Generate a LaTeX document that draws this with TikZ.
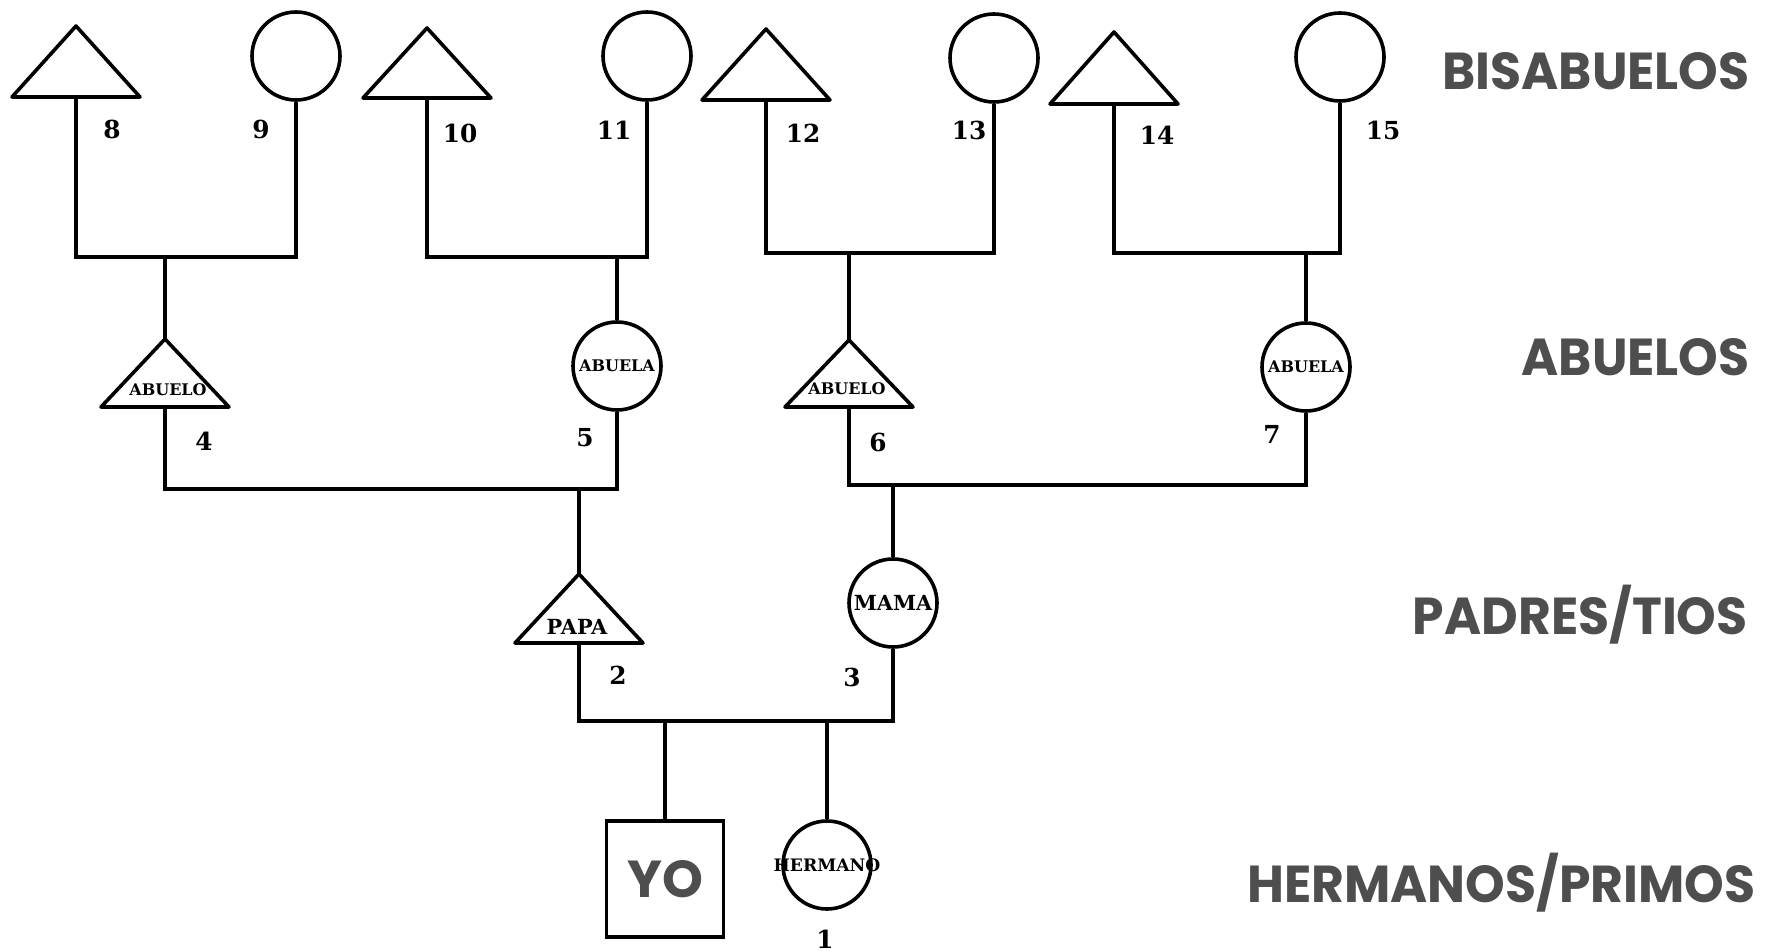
\documentclass[tikz,border=0pt]{standalone}
\usepackage{fontspec}
\setmainfont{DejaVu Serif}
\newfontfamily\hdrfam{Poppins}[FakeStretch=0.97]
\newfontfamily\yofam{Poppins}
\definecolor{hdrgray}{RGB}{78,78,78}
\newcommand\numfnt{\bfseries\fontsize{12.4}{13}\selectfont}
\newcommand\inlabfnt{\bfseries\fontsize{8.0}{9}\selectfont}
\newcommand\hermfnt{\bfseries\fontsize{8.6}{9}\selectfont}
\newcommand\bigfnt{\bfseries\fontsize{10.4}{11}\selectfont}
\newcommand\hdrfnt{\hdrfam\bfseries\fontsize{26}{28}\selectfont}
% triangle: name, cx, apex y, base y
\newcommand\malesym[4]{%
  \coordinate (#1-top) at (#2,#3);
  \coordinate (#1-bot) at (#2,#4);
  \draw[shapeline] (#2-64,#4) -- (#1-top) -- (#2+64,#4) -- cycle;
}
\begin{document}
\begin{tikzpicture}[x=0.5pt,y=-0.5pt,
  shapeline/.style={line width=1.8pt, line join=round},
  ln/.style={line width=1.7pt, line join=miter},
  fem/.style={circle, draw, line width=1.8pt, minimum size=44pt, inner sep=0pt},
  me/.style={rectangle, draw, line width=1.8pt, minimum width=58.5pt, minimum height=58pt, inner sep=0pt,
    font=\yofam\bfseries\fontsize{26}{27}\selectfont, text=hdrgray},
  num/.style={font=\numfnt, inner sep=0pt},
  inlab/.style={font=\inlabfnt, inner sep=0pt},
  hermlab/.style={font=\hermfnt, inner sep=0pt},
  biglab/.style={font=\bigfnt, inner sep=0pt},
  hdr/.style={font=\hdrfnt, text=hdrgray, inner sep=0pt, anchor=east}
]
\useasboundingbox (0,0) rectangle (1780,951);

% ---------- great-grandparents ----------
\malesym{t8}{76}{26}{97}
\node[fem] (c9) at (296,56) {};
\malesym{t10}{427}{28}{98}
\node[fem] (c11) at (647,56) {};
\malesym{t12}{766}{29}{100}
\node[fem] (c13) at (994,58) {};
\malesym{t14}{1114}{32}{104}
\node[fem] (c15) at (1340,57) {};

\node[num] (n8) at (112,129) {8};
\node[num] (n9) at (261,129) {9};
\node[num] (n10) at (460,133) {10};
\node[num] (n11) at (614,130) {11};
\node[num] (n12) at (803,133) {12};
\node[num] (n13) at (969,130) {13};
\node[num] (n14) at (1157,135) {14};
\node[num] (n15) at (1383,130) {15};

% ---------- grandparents ----------
\malesym{t4}{165}{339}{407}
\node[inlab] (l4) at (168,390) {ABUELO};
\node[fem, label={[inlab]center:ABUELA}] (c5) at (617,366) {};
\malesym{t6}{849}{340}{407}
\node[inlab] (l6) at (847,389) {ABUELO};
\node[fem, label={[inlab]center:ABUELA}] (c7) at (1306,367) {};

\node[num] (n4) at (204,441) {4};
\node[num] (n5) at (585,438) {5};
\node[num] (n6) at (878,442) {6};
\node[num] (n7) at (1272,434) {7};

% ---------- parents ----------
\malesym{tp}{579}{574}{643}
\node[biglab] (lp) at (577,627) {PAPA};
\node[fem, label={[biglab]center:MAMA}] (mama) at (893,603) {};

\node[num] (n2) at (618,675) {2};
\node[num] (n3) at (852,677) {3};

% ---------- siblings ----------
\node[me] (yo) at (665,879) {YO};
\node[fem, label={[hermlab]center:HERMANO}] (herm) at (827,865) {};
\node[num] (n1) at (825,939) {1};

% ---------- connectors ----------
\coordinate (f1) at (165,257);
\coordinate (f2) at (617,257);
\coordinate (f3) at (849,253);
\coordinate (f4) at (1306,253);
\draw[ln] (t8-bot) |- (f1) -| (c9.south);
\draw[ln] (t10-bot) |- (f2) -| (c11.south);
\draw[ln] (t12-bot) |- (f3) -| (c13.south);
\draw[ln] (t14-bot) |- (f4) -| (c15.south);
\draw[ln] (f1) -- (t4-top);
\draw[ln] (f2) -- (c5.north);
\draw[ln] (f3) -- (t6-top);
\draw[ln] (f4) -- (c7.north);

\coordinate (f5) at (579,489);
\coordinate (f6) at (893,485);
\draw[ln] (t4-bot) |- (f5) -| (c5.south);
\draw[ln] (t6-bot) |- (f6) -| (c7.south);
\draw[ln] (f5) -- (tp-top);
\draw[ln] (f6) -- (mama.north);

\coordinate (f7) at (665,721);
\coordinate (f8) at (827,721);
\draw[ln] (tp-bot) |- (f7) -| (mama.south);
\draw[ln] (f7) -- (yo.north);
\draw[ln] (f8) -- (herm.north);

% ---------- generation titles ----------
\node[hdr] (hbis) at (1750,71) {BISABUELOS};
\node[hdr] (habu) at (1750,357) {ABUELOS};
\node[hdr] (hpad) at (1748,615) {PADRES/TIOS};
\node[hdr] (hher) at (1756,883) {HERMANOS/PRIMOS};
\end{tikzpicture}
\end{document}
